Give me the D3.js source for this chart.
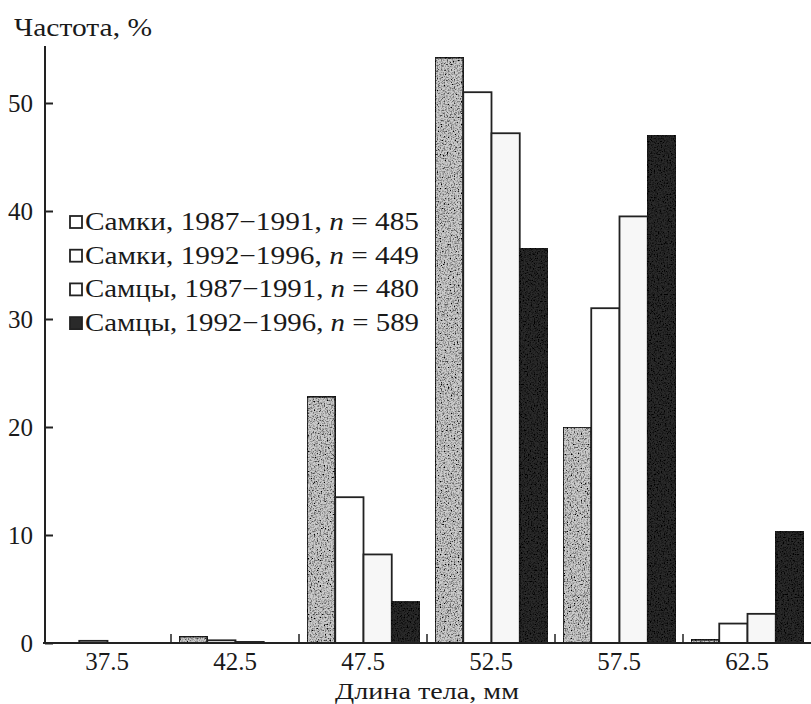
<!DOCTYPE html>
<html>
<head>
<meta charset="utf-8">
<script src="https://cdn.jsdelivr.net/npm/d3@7"></script>
<style>
  body { margin: 0; background: #fff; }
  svg text { font-family: "Liberation Serif", "Times New Roman", Times, serif; fill: #1a1a1a; }
</style>
</head>
<body>
<div id="chart"></div>
<script>
// Частота длины тела по группам

var width = 811;
var height = 704;

// data
var lengths = ["37.5", "42.5", "47.5", "52.5", "57.5", "62.5"];
var seriesNames = [
    "Самки, 1987\u22121991, ",
    "Самки, 1992\u22121996, ",
    "Самцы, 1987\u22121991, ",
    "Самцы, 1992\u22121996, "
];
var seriesN = ["485", "449", "480", "589"];
var femalesEarly = [0.0, 0.6, 22.8, 54.2, 20.0, 0.3];
var femalesLate  = [0.2, 0.25, 13.5, 51.0, 31.0, 1.8];
var malesEarly   = [0.0, 0.1, 8.2, 47.2, 39.5, 2.7];
var malesLate    = [0.0, 0.0, 3.8, 36.5, 47.0, 10.3];
var yTicks = [0, 10, 20, 30, 40, 50];

var series = [femalesEarly, femalesLate, malesEarly, malesLate];
var fills = ["#cbcbcb", "#ffffff", "#f7f7f7", "#2a2a2a"];
var speckled = [true, false, false, true];

var svg = d3.select("#chart")
            .append("svg")
            .attr("width", width)
            .attr("height", height);

// speckled print texture
var filt = svg.append("defs").append("filter")
    .attr("id", "speck")
    .attr("x", 0).attr("y", 0).attr("width", 1).attr("height", 1);
filt.append("feTurbulence")
    .attr("type", "fractalNoise")
    .attr("baseFrequency", 0.7)
    .attr("numOctaves", 2)
    .attr("seed", 4)
    .attr("result", "noise");
filt.append("feColorMatrix")
    .attr("in", "noise")
    .attr("type", "matrix")
    .attr("values", "0 0 0 0 0  0 0 0 0 0  0 0 0 0 0  3 0 0 0 -1.3")
    .attr("result", "dots");
filt.append("feComposite")
    .attr("in", "dots").attr("in2", "SourceGraphic")
    .attr("operator", "in").attr("result", "dotsIn");
var merge = filt.append("feMerge");
merge.append("feMergeNode").attr("in", "SourceGraphic");
merge.append("feMergeNode").attr("in", "dotsIn");

// scales
var x = d3.scaleBand()
          .domain(lengths)
          .range([43, 811]);

var xInner = d3.scaleBand()
               .domain(d3.range(series.length))
               .range([8, x.bandwidth() - 7]);

var y = d3.scaleLinear()
          .domain([0, 50])
          .range([643, 103]);

// bars
series.forEach(function(vals, s) {
    svg.append("g")
       .selectAll("rect")
       .data(vals)
       .enter()
       .append("rect")
       .attr("x", function(d, i) { return x(lengths[i]) + xInner(s); })
       .attr("width", xInner.bandwidth())
       .attr("y", function(d) { return y(d); })
       .attr("height", function(d) { return y(0) - y(d); })
       .attr("fill", fills[s])
       .attr("stroke", "#222")
       .attr("stroke-width", 1.8)
       .attr("filter", speckled[s] ? "url(#speck)" : null);
});

// y axis
var yAxis = d3.axisLeft(y)
              .tickValues(yTicks)
              .tickSize(-8)
              .tickPadding(12)
              .tickFormat(d3.format("d"));

var gy = svg.append("g")
            .attr("transform", "translate(45,0)")
            .call(yAxis)
            .attr("font-family", null);
gy.select(".domain").remove();
gy.append("line")
  .attr("x1", 0).attr("x2", 0)
  .attr("y1", 46).attr("y2", y(0))
  .attr("stroke", "#222").attr("stroke-width", 2);
gy.selectAll(".tick line").attr("stroke", "#222").attr("stroke-width", 2);
gy.selectAll(".tick text")
  .attr("font-size", 25)
  .attr("fill", "#1a1a1a");

// x axis
svg.append("line")
   .attr("x1", 43).attr("x2", 811)
   .attr("y1", y(0)).attr("y2", y(0))
   .attr("stroke", "#222").attr("stroke-width", 2);

// small ticks between groups
svg.append("g")
   .selectAll("line")
   .data(lengths.slice(1))
   .enter()
   .append("line")
   .attr("x1", function(d) { return x(d); })
   .attr("x2", function(d) { return x(d); })
   .attr("y1", y(0))
   .attr("y2", y(0) - 9)
   .attr("stroke", "#222").attr("stroke-width", 1.5);

svg.append("g")
   .selectAll("text")
   .data(lengths)
   .enter()
   .append("text")
   .attr("x", function(d) { return x(d) + x.bandwidth() / 2; })
   .attr("y", 670)
   .attr("text-anchor", "middle")
   .attr("font-size", 25)
   .text(function(d) { return d; });

// axis titles
svg.append("text")
   .attr("x", 14).attr("y", 36)
   .attr("font-size", 25)
   .attr("textLength", 138)
   .attr("lengthAdjust", "spacingAndGlyphs")
   .text("Частота, %");

svg.append("text")
   .attr("x", 335).attr("y", 699)
   .attr("font-size", 23)
   .attr("textLength", 184)
   .attr("lengthAdjust", "spacingAndGlyphs")
   .text("Длина тела, мм");

// legend
var legend = svg.append("g")
                .selectAll("g")
                .data(seriesNames)
                .enter()
                .append("g")
                .attr("transform", function(d, i) { return "translate(70," + (222 + i * 33.7) + ")"; });

legend.append("rect")
      .attr("x", 0).attr("y", -6)
      .attr("width", 12).attr("height", 12)
      .attr("fill", function(d, i) { return i == 3 ? fills[i] : "#fff"; })
      .attr("stroke", "#222")
      .attr("stroke-width", 1.8);

var lt = legend.append("text")
      .attr("x", 15).attr("y", 8)
      .attr("font-size", 25)
      .attr("textLength", 334)
      .attr("lengthAdjust", "spacingAndGlyphs");
lt.append("tspan").text(function(d) { return d; });
lt.append("tspan").attr("font-style", "italic").text("n");
lt.append("tspan").text(function(d, i) { return " = " + seriesN[i]; });
</script>
</body>
</html>
